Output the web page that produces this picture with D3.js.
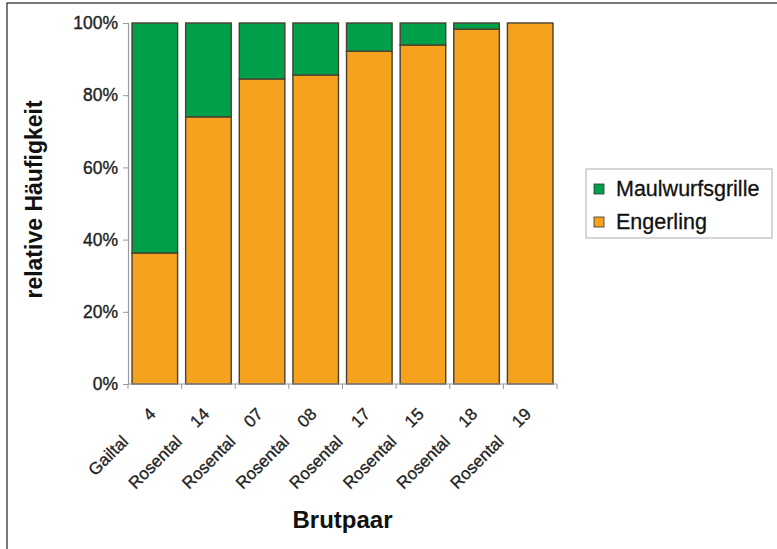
<!DOCTYPE html>
<html>
<head>
<meta charset="utf-8">
<script src="https://cdn.jsdelivr.net/npm/d3@7"></script>
<style>
  html, body { margin: 0; padding: 0; background: #fff; }
  svg { display: block; font-family: Arial, "Liberation Sans", sans-serif; }
</style>
</head>
<body>
<svg id="chart" width="777" height="549"></svg>
<script>
// Brood pairs: valley name and pair number
const regions = ["Gailtal", "Rosental", "Rosental", "Rosental", "Rosental", "Rosental", "Rosental", "Rosental"];
const pairNumbers = ["4", "14", "07", "08", "17", "15", "18", "19"];
const categories = regions.map((r, i) => r + " " + pairNumbers[i]);

// Relative frequency of prey types (%)
const engerling = [36.3, 74.0, 84.5, 85.6, 92.2, 93.9, 98.3, 100];
const maulwurfsgrille = [63.7, 26.0, 15.5, 14.4, 7.8, 6.1, 1.7, 0];

const yTicks = [0, 20, 40, 60, 80, 100];
const seriesNames = ["Maulwurfsgrille", "Engerling"];
const colors = { "Engerling": "#f6a21e", "Maulwurfsgrille": "#00a04b" };

const svg = d3.select("#chart");
const W = 777, H = 549;
const plot = { left: 128, right: 557, top: 23, bottom: 384 };
const textColor = "#222";

// outer frame
svg.append("rect")
  .attr("x", 7).attr("y", 3)
  .attr("width", W + 20).attr("height", H + 20)
  .attr("fill", "none").attr("stroke", "#333").attr("stroke-width", 1.3);

const x = d3.scaleBand()
  .domain(categories)
  .range([plot.left, plot.right])
  .paddingInner(0.15)
  .paddingOuter(0.075);

const y = d3.scaleLinear().domain([0, 100]).range([plot.bottom, plot.top]);

// stacked series: Engerling at bottom, Maulwurfsgrille on top
const table = categories.map((c, i) => ({ cat: c, Engerling: engerling[i], Maulwurfsgrille: maulwurfsgrille[i] }));
const stack = d3.stack().keys(["Engerling", "Maulwurfsgrille"])(table);

const layers = svg.append("g").selectAll("g")
  .data(stack).join("g")
  .attr("fill", d => colors[d.key]);

layers.selectAll("rect")
  .data(d => d.filter(s => s[1] - s[0] > 0))
  .join("rect")
  .attr("x", d => x(d.data.cat))
  .attr("width", x.bandwidth())
  .attr("y", d => y(d[1]))
  .attr("height", d => y(d[0]) - y(d[1]))
  .attr("stroke", "#4a4030")
  .attr("stroke-width", 1.4);

// y axis
const yAxis = svg.append("g")
  .attr("transform", `translate(${plot.left},0)`)
  .call(d3.axisLeft(y).tickValues(yTicks).tickFormat(d => d + "%").tickSize(5).tickPadding(5));
yAxis.select(".domain").attr("stroke", "#999").attr("stroke-width", 1.2);
yAxis.selectAll(".tick line").attr("stroke", "#999");
yAxis.selectAll(".tick text")
  .attr("font-size", 17.5).attr("fill", textColor)
  .attr("stroke", textColor).attr("stroke-width", 0.35)
  .attr("font-family", "Arial, 'Liberation Sans', sans-serif");

// x axis line with ticks between categories
const xAxis = svg.append("g").attr("transform", `translate(0,${plot.bottom})`);
xAxis.append("line")
  .attr("x1", plot.left).attr("x2", plot.right)
  .attr("stroke", "#999").attr("stroke-width", 1.2);
const step = x.step();
const boundaries = categories.map(c => x(c) - (step - x.bandwidth()) / 2).concat([plot.right]);
xAxis.selectAll("line.tk").data(boundaries).join("line")
  .attr("class", "tk")
  .attr("x1", d => d).attr("x2", d => d)
  .attr("y1", 0).attr("y2", 5)
  .attr("stroke", "#999");

// rotated category labels: valley name and pair number
const lab = svg.append("g").selectAll("g")
  .data(categories).join("g")
  .attr("transform", d => `translate(${x(d) + x.bandwidth() / 2 + 2},${plot.bottom + 31}) rotate(-45)`)
  .attr("font-size", 17).attr("fill", textColor)
  .attr("stroke", textColor).attr("stroke-width", 0.3);
lab.append("text")
  .attr("text-anchor", "end")
  .attr("x", 0)
  .text((d, i) => pairNumbers[i]);
lab.append("text")
  .attr("text-anchor", "end")
  .attr("x", -39)
  .text((d, i) => regions[i]);

// axis titles
svg.append("text")
  .attr("transform", `translate(42,${(plot.top + plot.bottom) / 2 - 4}) rotate(-90)`)
  .attr("text-anchor", "middle")
  .attr("font-size", 23).attr("font-weight", "bold").attr("fill", "#111")
  .text("relative Häufigkeit");

svg.append("text")
  .attr("x", (plot.left + plot.right) / 2)
  .attr("y", 528)
  .attr("text-anchor", "middle")
  .attr("font-size", 24).attr("font-weight", "bold").attr("fill", "#111")
  .text("Brutpaar");

// legend
const lg = svg.append("g");
lg.append("rect")
  .attr("x", 586).attr("y", 169).attr("width", 186).attr("height", 69)
  .attr("fill", "#fff").attr("stroke", "#bbb").attr("stroke-width", 1.2);
const items = lg.selectAll("g.item").data(seriesNames).join("g")
  .attr("class", "item")
  .attr("transform", (d, i) => `translate(594,${184 + i * 33})`);
items.append("rect")
  .attr("width", 10).attr("height", 10)
  .attr("fill", d => colors[d]).attr("stroke", "#333").attr("stroke-width", 0.8);
items.append("text")
  .attr("x", 22).attr("y", 12)
  .attr("font-size", 21.5).attr("fill", "#111")
  .attr("stroke", "#111").attr("stroke-width", 0.3)
  .text(d => d);
</script>
</body>
</html>
